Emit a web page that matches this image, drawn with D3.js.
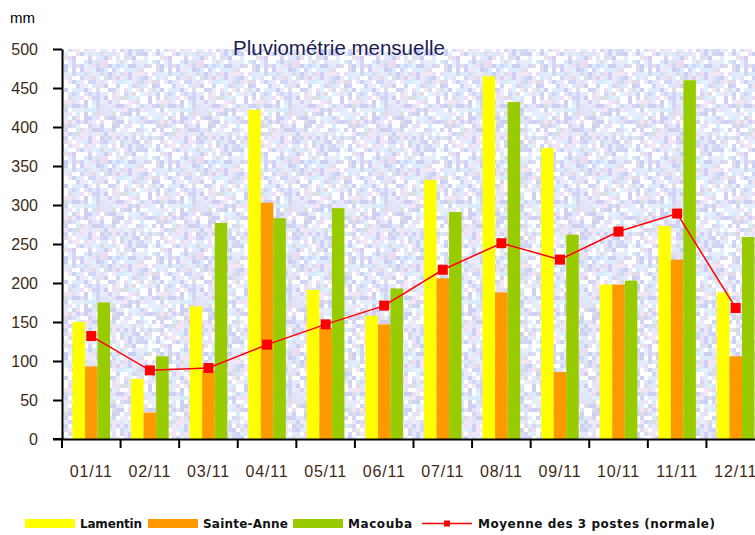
<!DOCTYPE html>
<html>
<head>
<meta charset="utf-8">
<script src="https://cdn.jsdelivr.net/npm/d3@7"></script>
<style>
  body{margin:0;background:#fff;}
  svg{display:block;}
</style>
</head>
<body>
<svg width="755" height="535"></svg>
<script>
// valeurs (mm)
const MONTHS=['01/11','02/11','03/11','04/11','05/11','06/11','07/11','08/11','09/11','10/11','11/11','12/11'];
const LAMENTIN=[150,77,170,422,191,158,332,465,373,198,273,188];
const SAINTE_ANNE=[93,34,88,303,142,147,206,188,86,198,230,106];
const MACOUBA=[175,106,277,283,296,193,291,432,262,203,460,259];
const MOYENNE=[132,88,91,121,147,171,217,251,230,266,289,168];
const Y_TICKS=[0,50,100,150,200,250,300,350,400,450,500];

const SERIES=[
  {name:'Lamentin',values:LAMENTIN,color:'#ffff00'},
  {name:'Sainte-Anne',values:SAINTE_ANNE,color:'#ff9900'},
  {name:'Macouba',values:MACOUBA,color:'#99cc00'}
];

const svg=d3.select('svg');
const pLeft=62,pRight=765,pTop=49,pBottom=439;

// fond tacheté de la zone de tracé (texture décorative)
const palette=['#e4eafc','#d3d5f7','#f3e6f6','#ffffff','#d9eafa','#dedee8','#e9e0f6','#ffffff','#cdd0f3','#e3f1fc'];
const mix=i=>{
  let h=Math.imul(i^(i>>>3),0x9E3779B1);
  h^=h>>>15; h=Math.imul(h,0x85EBCA77); h^=h>>>13;
  return (h>>>0)%palette.length;
};
const pat=svg.append('defs').append('pattern')
  .attr('id','fond').attr('patternUnits','userSpaceOnUse')
  .attr('width',96).attr('height',96);
pat.selectAll('rect').data(d3.range(24*24)).enter().append('rect')
  .attr('x',i=>(i%24)*4).attr('y',i=>Math.floor(i/24)*4)
  .attr('width',4).attr('height',4)
  .attr('fill',i=>palette[mix(i+17)]);

const xScale=d3.scaleBand().domain(MONTHS).range([pLeft,pRight]).paddingInner(0).paddingOuter(0);
const xSub=d3.scaleBand().domain(SERIES.map(s=>s.name)).range([0,xScale.bandwidth()]).paddingInner(0).paddingOuter(0.84);
const yScale=d3.scaleLinear().domain([0,500]).range([pBottom,pTop]);

svg.append('rect').attr('x',pLeft).attr('y',pTop)
  .attr('width',pRight-pLeft).attr('height',pBottom-pTop)
  .attr('fill','url(#fond)');

// barres
const groups=svg.selectAll('.mois').data(MONTHS).enter().append('g')
  .classed('mois',true)
  .attr('transform',m=>`translate(${xScale(m)},0)`);
groups.selectAll('rect').data((m,i)=>SERIES.map(s=>({name:s.name,color:s.color,value:s.values[i]})))
  .enter().append('rect')
  .attr('x',d=>xSub(d.name))
  .attr('width',xSub.bandwidth())
  .attr('y',d=>yScale(d.value))
  .attr('height',d=>pBottom-yScale(d.value))
  .attr('fill',d=>d.color);

// moyenne
const cx=m=>xScale(m)+xScale.bandwidth()/2;
svg.append('path').datum(MOYENNE)
  .attr('fill','none').attr('stroke','#ff0000').attr('stroke-width',1.5)
  .attr('d',d3.line().x((d,i)=>cx(MONTHS[i])).y(d=>yScale(d)));
svg.selectAll('.pt').data(MOYENNE).enter().append('rect')
  .classed('pt',true)
  .attr('x',(d,i)=>cx(MONTHS[i])-5).attr('y',d=>yScale(d)-5)
  .attr('width',10).attr('height',10).attr('fill','#ff0000');

// axes
const yAxis=svg.append('g').attr('transform',`translate(${pLeft},0)`)
  .call(d3.axisLeft(yScale).tickValues(Y_TICKS).tickSize(9).tickPadding(15).tickSizeOuter(0));
yAxis.select('.domain').attr('stroke','#000').attr('stroke-width',2);
yAxis.selectAll('line').attr('stroke','#000').attr('stroke-width',2);
yAxis.selectAll('text').attr('font-family','Liberation Sans, Arial, sans-serif')
  .attr('font-size',16).attr('fill','#3d2a16');

const xAxis=svg.append('g').attr('transform',`translate(0,${pBottom})`)
  .call(d3.axisBottom(xScale).tickSize(0).tickPadding(27).tickSizeOuter(0));
xAxis.select('.domain').attr('stroke','#000').attr('stroke-width',2);
xAxis.selectAll('text').attr('font-family','Liberation Sans, Arial, sans-serif')
  .attr('font-size',16).attr('fill','#3d2a16').attr('letter-spacing',0.8);
svg.append('line').attr('x1',53).attr('x2',pLeft).attr('y1',pBottom).attr('y2',pBottom)
  .attr('stroke','#000').attr('stroke-width',2);
svg.selectAll('.xtick').data(MONTHS).enter().append('line')
  .attr('x1',m=>xScale(m)).attr('x2',m=>xScale(m))
  .attr('y1',pBottom).attr('y2',pBottom+9)
  .attr('stroke','#000').attr('stroke-width',2);

svg.append('text').attr('x',10).attr('y',23).text('mm')
  .attr('font-family','Liberation Sans, Arial, sans-serif').attr('font-size',15).attr('fill','#000');
svg.append('text').attr('x',233).attr('y',55).text('Pluviométrie mensuelle')
  .attr('font-family','Liberation Sans, Arial, sans-serif').attr('font-size',20.5).attr('fill','#1c1c50');

// légende
const LEGEND_X=[25,148,293,422];
const LEGEND_W=[62,85,64];
const leg=svg.append('g').attr('font-family','DejaVu Sans, sans-serif').attr('font-size',12).attr('font-weight','bold');
SERIES.forEach((s,i)=>{
  leg.append('rect').attr('x',LEGEND_X[i]).attr('y',519).attr('width',50).attr('height',9).attr('fill',s.color);
  leg.append('text').attr('x',LEGEND_X[i]+55).attr('y',528).text(s.name).attr('fill','#111')
    .attr('textLength',LEGEND_W[i]).attr('lengthAdjust','spacing');
});
leg.append('line').attr('x1',LEGEND_X[3]).attr('x2',LEGEND_X[3]+50).attr('y1',523.5).attr('y2',523.5)
  .attr('stroke','#ff0000').attr('stroke-width',1.5);
leg.append('rect').attr('x',LEGEND_X[3]+22).attr('y',520.5).attr('width',6).attr('height',6).attr('fill','#ff0000');
leg.append('text').attr('x',LEGEND_X[3]+56).attr('y',528).text('Moyenne des 3 postes (normale)').attr('fill','#111')
  .attr('textLength',237).attr('lengthAdjust','spacing');
</script>
</body>
</html>
